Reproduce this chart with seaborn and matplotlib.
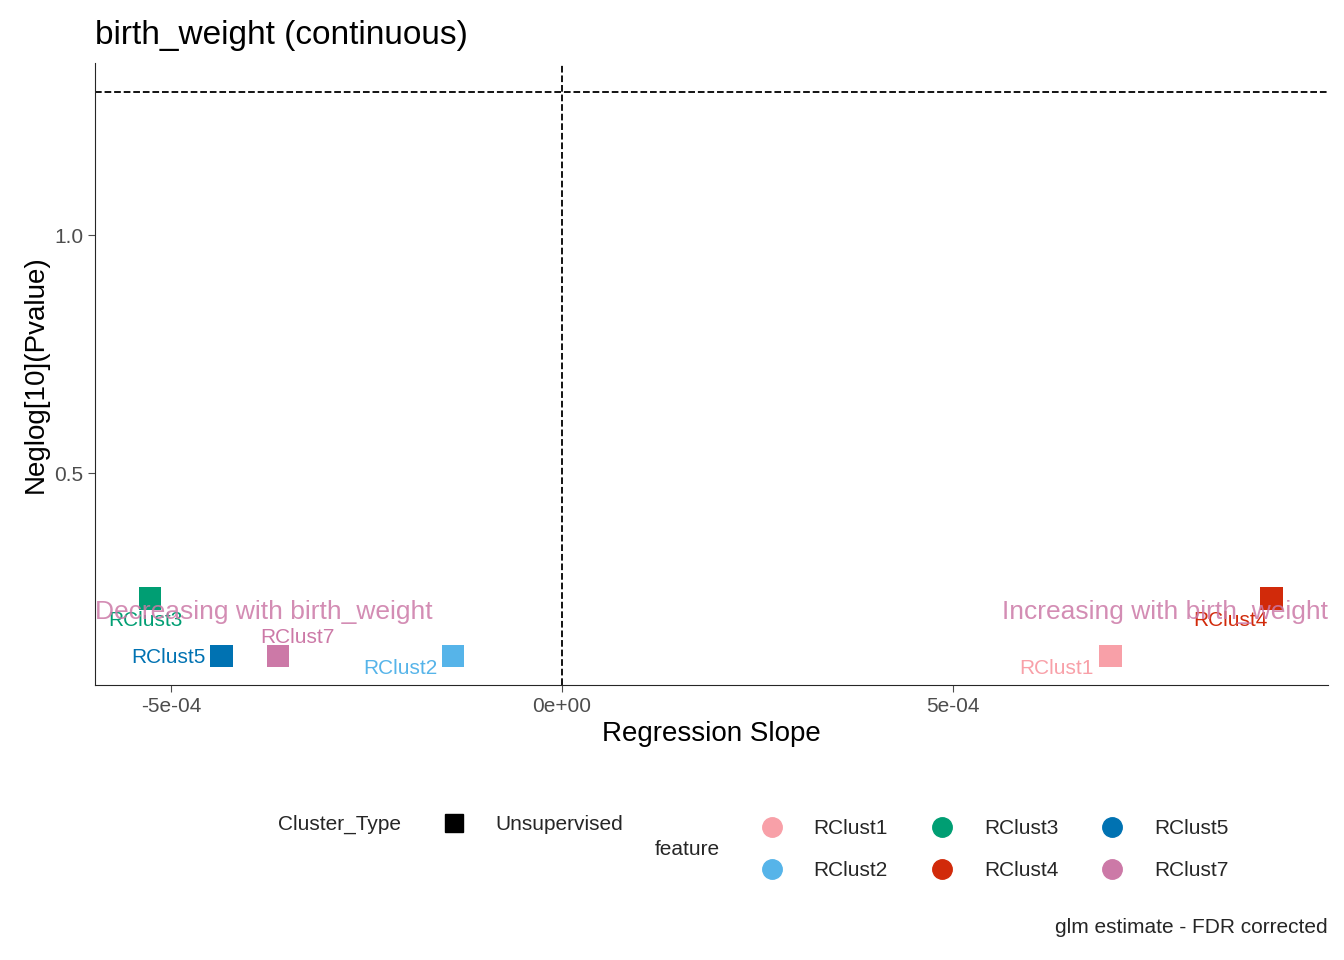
import pandas as pd
import numpy as np
import matplotlib
matplotlib.use('Agg')
import matplotlib.pyplot as plt
import seaborn as sns
from matplotlib.lines import Line2D

sns.set_style('white')
plt.rcParams['font.family'] = ['Liberation Sans', 'DejaVu Sans']

df = pd.DataFrame({
    'feature': ['RClust3', 'RClust5', 'RClust7', 'RClust2', 'RClust1', 'RClust4'],
    'slope': [-5.27e-4, -4.35e-4, -3.63e-4, -1.39e-4, 7.02e-4, 9.08e-4],
    'neglog': [0.237, 0.116, 0.116, 0.116, 0.116, 0.237],
    'Cluster_Type': ['Unsupervised'] * 6,
})
# label positions (repelled in the original)
lab = {'RClust3': (-5.33e-4, 0.191), 'RClust5': (-5.03e-4, 0.113),
       'RClust7': (-3.38e-4, 0.155), 'RClust2': (-2.07e-4, 0.090),
       'RClust1': (6.33e-4, 0.090), 'RClust4': (8.56e-4, 0.191)}
pal = {'RClust1': '#F8A0A8', 'RClust2': '#56B4E9', 'RClust3': '#009E73',
       'RClust4': '#D12A0A', 'RClust5': '#0072B2', 'RClust7': '#CC79A7'}

fig = plt.figure(figsize=(13.44, 9.6), dpi=100)
ax = fig.add_axes([0.0707, 0.2865, 0.9173, 0.6475])
sns.scatterplot(data=df, x='slope', y='neglog', hue='feature', palette=pal,
                marker='s', s=260, edgecolor='none', legend=False, ax=ax, zorder=3)
for f, (x, y) in lab.items():
    ax.text(x, y, f, color=pal[f], fontsize=15, ha='center', va='center')

ax.axhline(-np.log10(0.05), ls='--', color='black', lw=1.3)
ax.axvline(0, ls='--', color='black', lw=1.3)
ax.text(-5.97e-4, 0.208, 'Decreasing with birth_weight', color='#CC79A7', alpha=0.85,
        fontsize=19, ha='left', va='center')
ax.text(9.8e-4, 0.208, 'Increasing with birth_weight', color='#CC79A7', alpha=0.85,
        fontsize=19, ha='right', va='center')

ax.set_xlim(-5.97e-4, 9.8e-4)
ax.set_ylim(0.055, 1.361)
ax.set_xticks([-5e-4, 0, 5e-4])
ax.set_xticklabels(['-5e-04', '0e+00', '5e-04'])
ax.set_yticks([0.5, 1.0])
ax.tick_params(labelsize=15, colors='#4D4D4D', length=5, left=True, bottom=True)
sns.despine(ax=ax)
ax.set_xlabel('Regression Slope', fontsize=20, color='black')
ax.set_ylabel('Neglog[10](Pvalue)', fontsize=20, color='black')
ax.set_title('birth_weight (continuous)', fontsize=24, loc='left', x=0.0, pad=14, color='black')

# legends
fig.text(0.207, 0.141, 'Cluster_Type', fontsize=15, va='center')
fig.legend(handles=[Line2D([], [], marker='s', ls='', color='black', markersize=13)],
           labels=['Unsupervised'], loc='center left', bbox_to_anchor=(0.308, 0.141),
           frameon=False, fontsize=15, handletextpad=1.0)
fig.text(0.487, 0.115, 'feature', fontsize=15, va='center')
order = ['RClust1', 'RClust2', 'RClust3', 'RClust4', 'RClust5', 'RClust7']
hs = [Line2D([], [], marker='o', ls='', color=pal[f], markersize=14) for f in order]
fig.legend(handles=hs, labels=order, loc='center left', bbox_to_anchor=(0.545, 0.115),
           ncol=3, frameon=False, fontsize=15, handletextpad=1.0, columnspacing=1.6,
           labelspacing=1.1)
fig.text(0.988, 0.028, 'glm estimate - FDR corrected', fontsize=15, ha='right')

fig.savefig('out.png', dpi=100)
